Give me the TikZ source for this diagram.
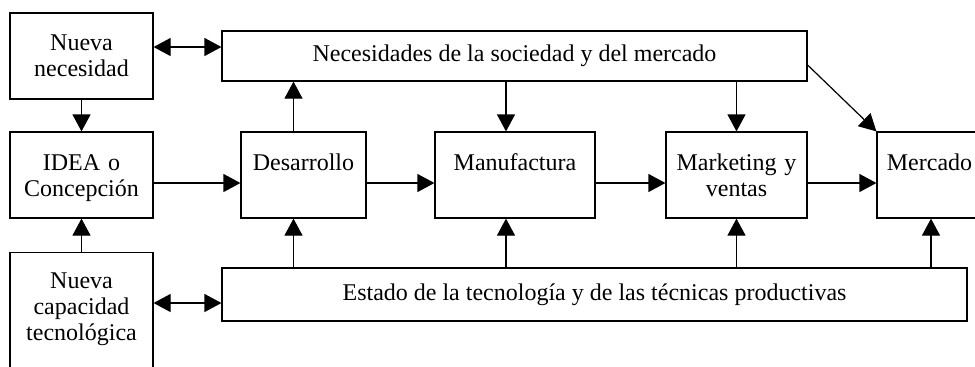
\documentclass[tikz,border=0pt]{standalone}
\usepackage{fontspec}
\setmainfont{Liberation Serif}
\usepackage{tikz}
\usetikzlibrary{arrows.meta, positioning, calc}

\begin{document}
\begin{tikzpicture}[x=0.5pt, y=-0.5pt,
    box/.style={draw, line width=0.6pt, inner sep=0pt, align=center, font=\fontsize{12}{13}\selectfont},
    stagebox/.style={box, text width=#1, text height=19pt, text depth=24pt},
    arr/.style={-{Triangle[length=8.5pt,width=9pt]}, line width=0.6pt},
    darr/.style={{Triangle[length=8.5pt,width=9pt]}-{Triangle[length=8.5pt,width=9pt]}, line width=0.6pt}]
    \useasboundingbox (0,0) rectangle (975,366);

    % left column
    \node[box,text width=71.5pt,minimum height=43pt] (nueva) at (81.5,56) {Nueva\\necesidad};
    \node[stagebox=71.5pt] (idea) at (81.5,175) {IDEA o\\Concepción};
    \node[box,text width=71.5pt,text height=18pt,text depth=60pt,anchor=north] (capac) at (81.5,252) {Nueva\\capacidad\\tecnológica};

    % top and bottom bars
    \node[box,minimum width=292.5pt,minimum height=25pt] (necesid) at (514.5,56) {Necesidades de la sociedad y del mercado};
    \node[box,minimum width=372.5pt,minimum height=26.5pt] (estado) at (594.5,294.5) {Estado de la tecnología y de las técnicas productivas};

    % stages
    \node[stagebox=62.5pt] (desarrollo) at (303.5,175) {Desarrollo};
    \node[stagebox=80pt] (manuf) at (515,175) {Manufactura};
    \node[stagebox=70.5pt] (mkt) at (736.5,175) {Marketing y\\ventas};
    \node[stagebox=52.5pt] (mercado) at (929.5,175) {Mercado};

    % Arrows
    \draw[darr] ([yshift=4.5pt]nueva.east) -- ([yshift=4.5pt]nueva.east -| necesid.west);
    \draw[darr] ([yshift=-4.25pt]estado.west -| capac.east) -- ([yshift=-4.25pt]estado.west);
    \draw[arr] (nueva) -- (idea);
    \draw[arr] (capac) -- (idea);
    \foreach \a/\b in {idea/desarrollo, desarrollo/manuf, manuf/mkt, mkt/mercado}
        \draw[arr] ([yshift=-4pt]\a.east) -- ([yshift=-4pt]\a.east -| \b.west);
    \draw[arr] ([xshift=-5pt]desarrollo.north) -- ([xshift=-5pt]desarrollo.north |- necesid.south);
    \draw[arr] ([xshift=-5pt]desarrollo.south |- estado.north) -- ([xshift=-5pt]desarrollo.south);
    \draw[arr] ([xshift=-4.5pt]manuf.north |- necesid.south) -- ([xshift=-4.5pt]manuf.north);
    \draw[arr] ([xshift=-4.5pt]manuf.south |- estado.north) -- ([xshift=-4.5pt]manuf.south);
    \draw[arr] (mkt.north |- necesid.south) -- (mkt.north);
    \draw[arr] (mkt.south |- estado.north) -- (mkt.south);
    \draw[arr] ([xshift=0.75pt]mercado.south |- estado.north) -- ([xshift=0.75pt]mercado.south);
    \draw[arr] ([yshift=-4.5pt]necesid.east) -- (mercado.north west);
\end{tikzpicture}
\end{document}
